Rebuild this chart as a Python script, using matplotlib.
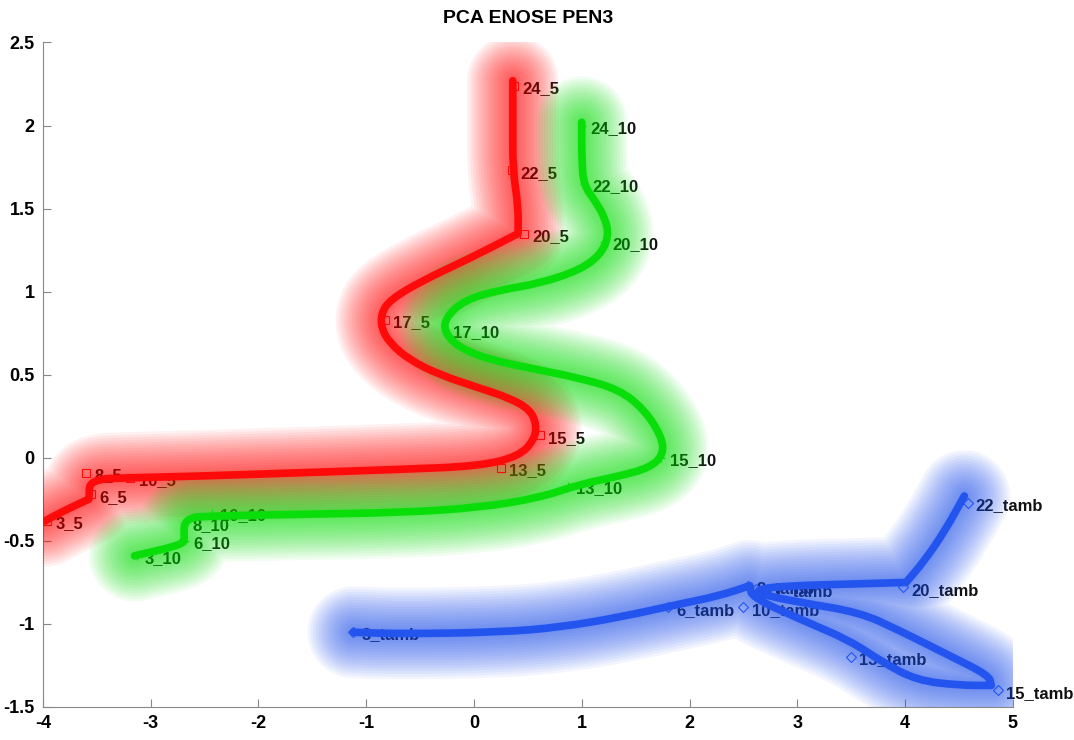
import numpy as np
import matplotlib
matplotlib.use("Agg")
import matplotlib.pyplot as plt
from matplotlib.path import Path
from matplotlib.patches import PathPatch
from matplotlib.ticker import FormatStrFormatter

plt.rcParams['font.family'] = ['Liberation Sans Narrow', 'Liberation Sans', 'DejaVu Sans']

# traced curve paths
red_path_x = [-3.98, -3.84, -3.58, -3.57, -3.57, -3.19, -2.54, -1.62, -0.69, 0.05, 0.42, 0.56, 0.58,
              0.52, 0.33, 0.05, -0.32, -0.60, -0.78, -0.86, -0.86, -0.78, -0.50, -0.04, 0.41,
              0.41, 0.41, 0.36, 0.36, 0.36]
red_path_y = [-0.38, -0.33, -0.25, -0.25, -0.13, -0.12, -0.11, -0.09, -0.07, -0.05, 0.01, 0.11, 0.20,
              0.29, 0.36, 0.42, 0.50, 0.59, 0.69, 0.78, 0.87, 0.95, 1.06, 1.20, 1.35,
              1.35, 1.52, 1.73, 2.03, 2.27]

green_path_x = [-3.15, -2.75, -2.69, -2.69, -2.69, -2.40, -1.62, -0.69, 0.05, 0.61, 0.98, 1.35, 1.63,
                1.76, 1.74, 1.58, 1.35, 0.98, 0.52, 0.15, -0.13, -0.27, -0.27, -0.09, 0.24,
                0.61, 0.98, 1.17, 1.25, 1.22, 1.12, 1.02, 1.00, 1.00]
green_path_y = [-0.59, -0.53, -0.50, -0.50, -0.36, -0.35, -0.34, -0.33, -0.30, -0.24, -0.16, -0.11, -0.06,
                0.02, 0.13, 0.29, 0.41, 0.48, 0.54, 0.59, 0.66, 0.75, 0.84, 0.95, 1.01,
                1.05, 1.13, 1.22, 1.33, 1.44, 1.55, 1.64, 1.79, 2.02]

blue_path_x = [-1.12, -0.69, 0.24, 0.80, 1.35, 1.91, 2.28, 2.56, 2.56, 2.58, 3.02, 3.49, 3.79, 4.11,
               4.51, 4.80, 4.80, 4.78, 4.41, 3.95, 3.58, 3.02, 2.65, 2.63, 2.93, 3.49, 4.01, 4.01,
               4.18, 4.37, 4.55]
blue_path_y = [-1.05, -1.06, -1.05, -1.02, -0.96, -0.88, -0.83, -0.77, -0.77, -0.84, -0.97, -1.10, -1.23, -1.34,
               -1.37, -1.37, -1.37, -1.31, -1.19, -1.04, -0.93, -0.87, -0.82, -0.79, -0.77, -0.76, -0.75, -0.75,
               -0.62, -0.44, -0.23]

# labelled samples
red_labels = ['3_5', '6_5', '8_5', '10_5', '13_5', '15_5', '17_5', '20_5', '22_5', '24_5']
red_x = [-3.96, -3.55, -3.60, -3.19, 0.25, 0.61, -0.83, 0.46, 0.35, 0.37]
red_y = [-0.38, -0.22, -0.09, -0.12, -0.06, 0.135, 0.83, 1.35, 1.73, 2.24]

green_labels = ['3_10', '6_10', '8_10', '10_10', '13_10', '15_10', '17_10', '20_10', '22_10', '24_10']
green_x = [-3.13, -2.68, -2.69, -2.43, 0.87, 1.74, -0.27, 1.21, 1.02, 1.00]
green_y = [-0.59, -0.50, -0.39, -0.33, -0.17, 0.00, 0.77, 1.30, 1.65, 2.00]

blue_labels = ['3_tamb', '6_tamb', '8_tamb', '10_tamb', '13_tamb', '15_tamb', '17_tamb', '20_tamb', '22_tamb']
blue_x = [-1.12, 1.80, 2.54, 2.50, 3.50, 4.86, 2.62, 3.98, 4.58]
blue_y = [-1.05, -0.90, -0.77, -0.90, -1.20, -1.40, -0.79, -0.78, -0.27]


def smooth_path(xs, ys):
    # quadratic bezier through midpoints; traced points act as control points
    pts = list(zip(xs, ys))
    verts = [pts[0], ((pts[0][0] + pts[1][0]) / 2, (pts[0][1] + pts[1][1]) / 2)]
    codes = [Path.MOVETO, Path.LINETO]
    for i in range(1, len(pts) - 1):
        mid = ((pts[i][0] + pts[i + 1][0]) / 2, (pts[i][1] + pts[i + 1][1]) / 2)
        verts += [pts[i], mid]
        codes += [Path.CURVE3, Path.CURVE3]
    verts.append(pts[-1])
    codes.append(Path.LINETO)
    return Path(verts, codes)


fig = plt.figure(figsize=(10.74, 7.4), dpi=100)
ax = fig.add_axes([0.040, 0.0446, 0.903, 0.898])

series = [
    (red_path_x, red_path_y, red_x, red_y, red_labels, '#ff0000', '#ff0a0a', 's'),
    (green_path_x, green_path_y, green_x, green_y, green_labels, '#00e000', '#0ade0a', '+'),
    (blue_path_x, blue_path_y, blue_x, blue_y, blue_labels, '#1a4ff0', '#2355ee', 'D'),
]

glow_widths = np.linspace(66, 8, 16)

for px, py, mx, my, labs, glow, col, mk in series:
    # labels first so the glow tints them
    for lx, ly, t in zip(mx, my, labs):
        ax.annotate(t, (lx, ly), xytext=(6, -2), textcoords='offset points',
                    ha='left', va='center', fontsize=12, fontweight='bold',
                    color='#111111', zorder=2)
    path = smooth_path(px, py)
    for lw in glow_widths:
        ax.add_patch(PathPatch(path, facecolor='none', edgecolor=glow, lw=lw, alpha=0.055,
                               capstyle='round', joinstyle='round', zorder=3))
    ax.add_patch(PathPatch(path, facecolor='none', edgecolor=col, lw=5.5,
                           capstyle='round', joinstyle='round', zorder=4))
    ax.plot(mx, my, linestyle='none', marker=mk, markersize=6 if mk != 'D' else 5,
            markerfacecolor='none', markeredgecolor=col, markeredgewidth=0.8, zorder=5)

ax.set_xlim(-4, 5)
ax.set_ylim(-1.5, 2.5)
ax.set_xticks(np.arange(-4, 6, 1))
ax.set_yticks(np.arange(-1.5, 2.51, 0.5))
ax.yaxis.set_major_formatter(FormatStrFormatter('%g'))
ax.xaxis.set_major_formatter(FormatStrFormatter('%g'))
for s in ['top', 'right']:
    ax.spines[s].set_visible(False)
for s in ['left', 'bottom']:
    ax.spines[s].set_color('#888888')
ax.tick_params(direction='in', length=6, color='#888888', labelsize=13, pad=6)
for lab in ax.get_xticklabels() + ax.get_yticklabels():
    lab.set_fontweight('bold')
ax.set_title('PCA ENOSE PEN3', fontsize=14, fontweight='bold', pad=14)

fig.savefig('out.png', dpi=100)
